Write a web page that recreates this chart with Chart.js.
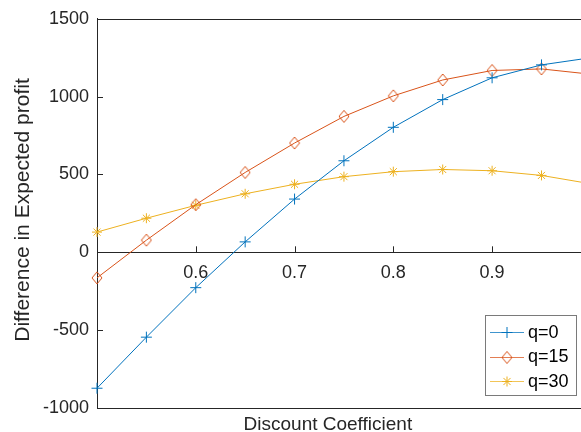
<!DOCTYPE html>
<html>
<head>
<meta charset="utf-8">
<script src="https://cdn.jsdelivr.net/npm/chart.js@4.4.0/dist/chart.umd.min.js"></script>
<style>
  html, body { margin: 0; padding: 0; background: #fff; }
  #wrap { width: 581px; height: 432px; }
</style>
</head>
<body>
<div id="wrap"><canvas id="chartMain" width="581" height="432"></canvas></div>
<script>
// values
const discount = [0.5, 0.55, 0.6, 0.65, 0.7, 0.75, 0.8, 0.85, 0.9, 0.95, 1.0];
const q0  = [-873, -545, -227, 67, 342, 588, 803, 981, 1121, 1204, 1250];
const q15 = [-164, 78, 306, 513, 702, 873, 1005, 1107, 1168, 1178, 1144];
const q30 = [130, 219, 302, 376, 437, 486, 518, 532, 524, 494, 440];
const seriesNames = ['q=0', 'q=15', 'q=30'];
const xTicks = [0.6, 0.7, 0.8, 0.9];
const yTicks = [-1000, -500, 0, 500, 1000, 1500];

const FONT = '"Liberation Sans", Arial, Helvetica, sans-serif';
const AXIS = '#262626';
const colors = ['#0072BD', '#D95319', '#EDB120'];

// matlab style diamond, a bit taller than wide
function diamondImage(color){
  let c = document.createElement('canvas');
  c.width = 12; c.height = 14;
  let g = c.getContext('2d');
  g.strokeStyle = color;
  g.lineWidth = 1;
  g.beginPath();
  g.moveTo(6, 1); g.lineTo(11, 7); g.lineTo(6, 13); g.lineTo(1, 7);
  g.closePath();
  g.stroke();
  return c;
}

function makeSet(label, ys, color, style, radius){
  return {
    label: label,
    data: discount.map((x, i) => ({x: x, y: ys[i]})),
    borderColor: color,
    backgroundColor: 'rgba(0,0,0,0)',
    borderWidth: 1,
    pointStyle: style,
    pointRadius: radius,
    pointBorderColor: color,
    pointBackgroundColor: 'rgba(0,0,0,0)',
    pointBorderWidth: 1,
    tension: 0,
    clip: false
  };
}

const matlabAxes = {
  id: 'matlabAxes',
  afterDraw(chart){
    const ctx = chart.ctx;
    const a = chart.chartArea;
    const xs = chart.scales.x, ys = chart.scales.y;
    ctx.save();
    ctx.strokeStyle = AXIS;
    ctx.lineWidth = 1;
    //---box top / bottom
    ctx.beginPath();
    ctx.moveTo(a.left, Math.round(a.top) + 0.5); ctx.lineTo(a.right, Math.round(a.top) + 0.5);
    ctx.moveTo(a.left, Math.round(a.bottom) + 0.5); ctx.lineTo(a.right, Math.round(a.bottom) + 0.5);
    //---inner ticks
    yTicks.forEach(v => {
      let y = Math.round(ys.getPixelForValue(v)) + 0.5;
      ctx.moveTo(a.left, y); ctx.lineTo(a.left + 6, y);
    });
    let y0 = ys.getPixelForValue(0);
    xTicks.forEach(v => {
      let x = Math.round(xs.getPixelForValue(v)) + 0.5;
      ctx.moveTo(x, y0); ctx.lineTo(x, y0 - 6);
    });
    ctx.stroke();

    //---axis titles
    ctx.fillStyle = AXIS;
    ctx.font = '19px ' + FONT;
    ctx.textAlign = 'center';
    ctx.textBaseline = 'alphabetic';
    ctx.fillText('Discount Coefficient', a.left + (a.right - a.left) * 0.477, 430);
    ctx.save();
    ctx.font = '21px ' + FONT;
    ctx.translate(23, 210);
    ctx.rotate(-Math.PI / 2);
    ctx.textBaseline = 'middle';
    ctx.fillText('Difference in Expected profit', 0, 0);
    ctx.restore();

    //---legend
    const bx = 485, by = 315, bw = 91, bh = 80;
    ctx.fillStyle = '#fff';
    ctx.fillRect(bx, by, bw, bh);
    ctx.strokeStyle = '#7a7a7a';
    ctx.strokeRect(bx + 0.5, by + 0.5, bw, bh);
    ctx.font = '18px ' + FONT;
    ctx.textAlign = 'left';
    ctx.textBaseline = 'middle';
    chart.data.datasets.forEach((ds, i) => {
      let cy = 332 + i * 24.5;
      ctx.save();
      ctx.globalAlpha = 0.75;
      ctx.strokeStyle = ds.borderColor;
      ctx.beginPath();
      ctx.moveTo(490, Math.round(cy) + 0.5); ctx.lineTo(524, Math.round(cy) + 0.5);
      ctx.stroke();
      ctx.restore();
      ctx.save();
      ctx.strokeStyle = ds.pointBorderColor;
      ctx.fillStyle = 'rgba(0,0,0,0)';
      ctx.lineWidth = 1;
      Chart.helpers.drawPoint(ctx, {pointStyle: ds.pointStyle, radius: ds.pointRadius, borderWidth: 1, rotation: 0}, 507, Math.round(cy) + 0.5);
      ctx.restore();
      ctx.fillStyle = '#000';
      ctx.fillText(ds.label, 528, cy + 1);
    });
    ctx.restore();
  }
};

let chart1;
function drawChart(){
  let ctx = document.getElementById('chartMain').getContext('2d');
  if (chart1) {
    chart1.destroy();
  }
  let datasets = [
    makeSet(seriesNames[0], q0, colors[0], 'cross', 5.5),
    makeSet(seriesNames[1], q15, colors[1], diamondImage(colors[1]), 6),
    makeSet(seriesNames[2], q30, colors[2], 'star', 5)
  ];
  chart1 = new Chart(ctx, {
    type: 'line',
    data: { datasets: datasets },
    plugins: [matlabAxes],
    options: {
      responsive: false,
      animation: false,
      layout: { padding: { top: 14, right: 0, bottom: 24, left: 0 }, autoPadding: false },
      plugins: { legend: { display: false }, tooltip: { enabled: false } },
      scales: {
        x: {
          type: 'linear', min: 0.5, max: 0.99,
          position: { y: 0 },
          afterBuildTicks: s => { s.ticks = xTicks.map(v => ({value: v})); },
          ticks: {
            font: { family: FONT, size: 18 }, color: AXIS, padding: 10,
            maxRotation: 0, autoSkip: false,
            callback: v => v.toFixed(1)
          },
          grid: { display: false, drawTicks: false },
          border: { display: true, color: AXIS, width: 1 }
        },
        y: {
          type: 'linear', min: -1000, max: 1500,
          position: 'left',
          afterBuildTicks: s => { s.ticks = yTicks.map(v => ({value: v})); },
          afterFit: s => { s.width = 97; },
          ticks: {
            font: { family: FONT, size: 18 }, color: AXIS, padding: 8,
            callback: v => String(v)
          },
          grid: { display: false, drawTicks: false },
          border: { display: true, color: AXIS, width: 1 }
        }
      }
    }
  });
}

window.onload = function(){
  drawChart();
};
</script>
</body>
</html>
